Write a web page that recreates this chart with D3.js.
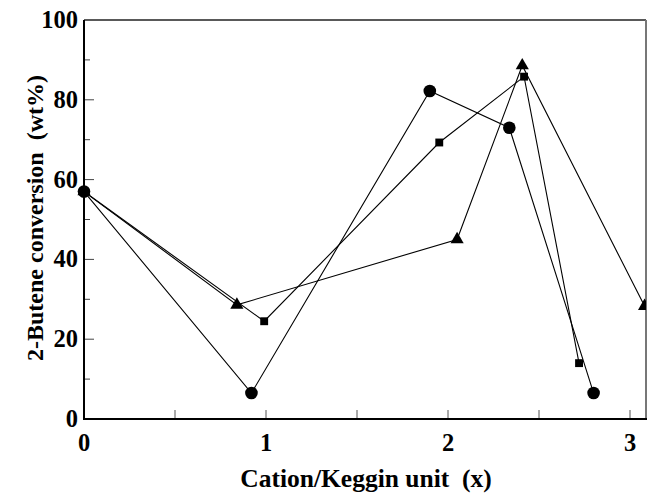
<!DOCTYPE html>
<html>
<head>
<meta charset="utf-8">
<script src="https://cdn.jsdelivr.net/npm/d3@7"></script>
<style>
  body { margin: 0; background: #fff; }
  svg text { font-family: "Liberation Serif", "Times New Roman", serif; font-weight: bold; fill: #000; white-space: pre; }
</style>
</head>
<body>
<div id="chart"></div>
<script>
// values
const circleX = [0, 0.92, 1.9, 2.337, 2.8];
const circleY = [57, 6.5, 82.2, 73, 6.5];
const squareX = [0, 0.99, 1.952, 2.418, 2.72];
const squareY = [57, 24.5, 69.3, 85.8, 14];
const triangleX = [0, 0.84, 2.05, 2.408, 3.08];
const triangleY = [57, 28.6, 45, 88.6, 28.3];
const xTickLabels = [0, 1, 2, 3];
const yTickLabels = [0, 20, 40, 60, 80, 100];

(() => {
  const w = 648;
  const h = 497;
  const left = 84;
  const right = 646;
  const top = 20;
  const bottom = 419;

  const x = d3.scaleLinear().domain([0, (right - left) / 182]).range([left, right]);
  const y = d3.scaleLinear().domain([0, 100]).range([bottom, top]);

  const svg = d3.select('#chart').append('svg')
    .attr('width', w)
    .attr('height', h);

  svg.append('clipPath').attr('id', 'plot-clip')
    .append('rect')
    .attr('x', left - 8).attr('y', top - 8)
    .attr('width', right - left + 8).attr('height', bottom - top + 16);

  // frame
  svg.append('line').attr('x1', left).attr('x2', right).attr('y1', top).attr('y2', top)
    .attr('stroke', '#222').attr('stroke-width', 1.5);
  svg.append('line').attr('x1', right).attr('x2', right).attr('y1', top).attr('y2', bottom)
    .attr('stroke', '#777').attr('stroke-width', 2);

  // y ticks (inside)
  const yMinor = d3.range(10, 100, 20);
  svg.selectAll('line.ymaj').data([20, 40, 60, 80]).enter().append('line')
    .attr('x1', left).attr('x2', left + 10)
    .attr('y1', d => y(d)).attr('y2', d => y(d))
    .attr('stroke', '#444').attr('stroke-width', 1);
  svg.selectAll('line.ymin').data(yMinor).enter().append('line')
    .attr('x1', left).attr('x2', left + 6)
    .attr('y1', d => y(d)).attr('y2', d => y(d))
    .attr('stroke', '#444').attr('stroke-width', 1);

  // x ticks (inside)
  svg.selectAll('line.xt').data([0.5, 1, 1.5, 2, 2.5, 3]).enter().append('line')
    .attr('x1', d => x(d)).attr('x2', d => x(d))
    .attr('y1', bottom).attr('y2', bottom - 9)
    .attr('stroke', '#555').attr('stroke-width', 1);

  // axes lines
  svg.append('line').attr('x1', left).attr('x2', left).attr('y1', top).attr('y2', bottom + 1)
    .attr('stroke', '#000').attr('stroke-width', 2);
  svg.append('line').attr('x1', left - 1).attr('x2', right + 1).attr('y1', bottom).attr('y2', bottom)
    .attr('stroke', '#000').attr('stroke-width', 2);

  // tick labels
  svg.selectAll('text.yl').data(yTickLabels).enter().append('text')
    .attr('x', left - 6)
    .attr('y', d => y(d) + 8)
    .attr('text-anchor', 'end')
    .style('font-size', '24.5px')
    .text(d => d);
  svg.selectAll('text.xl').data(xTickLabels).enter().append('text')
    .attr('x', d => x(d))
    .attr('y', 451)
    .attr('text-anchor', 'middle')
    .style('font-size', '24.5px')
    .text(d => d);

  // axis titles
  svg.append('text')
    .attr('x', 366).attr('y', 487)
    .attr('text-anchor', 'middle')
    .style('font-size', '25.5px')
    .text('Cation/Keggin unit  (x)');
  svg.append('text')
    .attr('transform', 'translate(43,218) rotate(-90)')
    .attr('text-anchor', 'middle')
    .style('font-size', '24px')
    .text('2-Butene conversion  (wt%)');

  const line = d3.line().x(d => x(d[0])).y(d => y(d[1]));
  const series = [
    { xs: triangleX, ys: triangleY, shape: d3.symbolTriangle, size: 75 },
    { xs: squareX, ys: squareY, shape: d3.symbolSquare, size: 62 },
    { xs: circleX, ys: circleY, shape: d3.symbolCircle, size: 125 }
  ];

  const g = svg.append('g').attr('clip-path', 'url(#plot-clip)');
  series.forEach((s) => {
    const pts = s.xs.map((v, i) => [v, s.ys[i]]);
    g.append('path')
      .attr('d', line(pts))
      .attr('fill', 'none')
      .attr('stroke', '#000')
      .attr('stroke-width', 1.1);
  });
  series.forEach((s) => {
    const pts = s.xs.map((v, i) => [v, s.ys[i]]);
    g.selectAll(null).data(pts).enter().append('path')
      .attr('transform', d => `translate(${x(d[0])},${y(d[1])})`)
      .attr('d', d3.symbol().type(s.shape).size(s.size))
      .attr('fill', '#000');
  });
})();
</script>
</body>
</html>
